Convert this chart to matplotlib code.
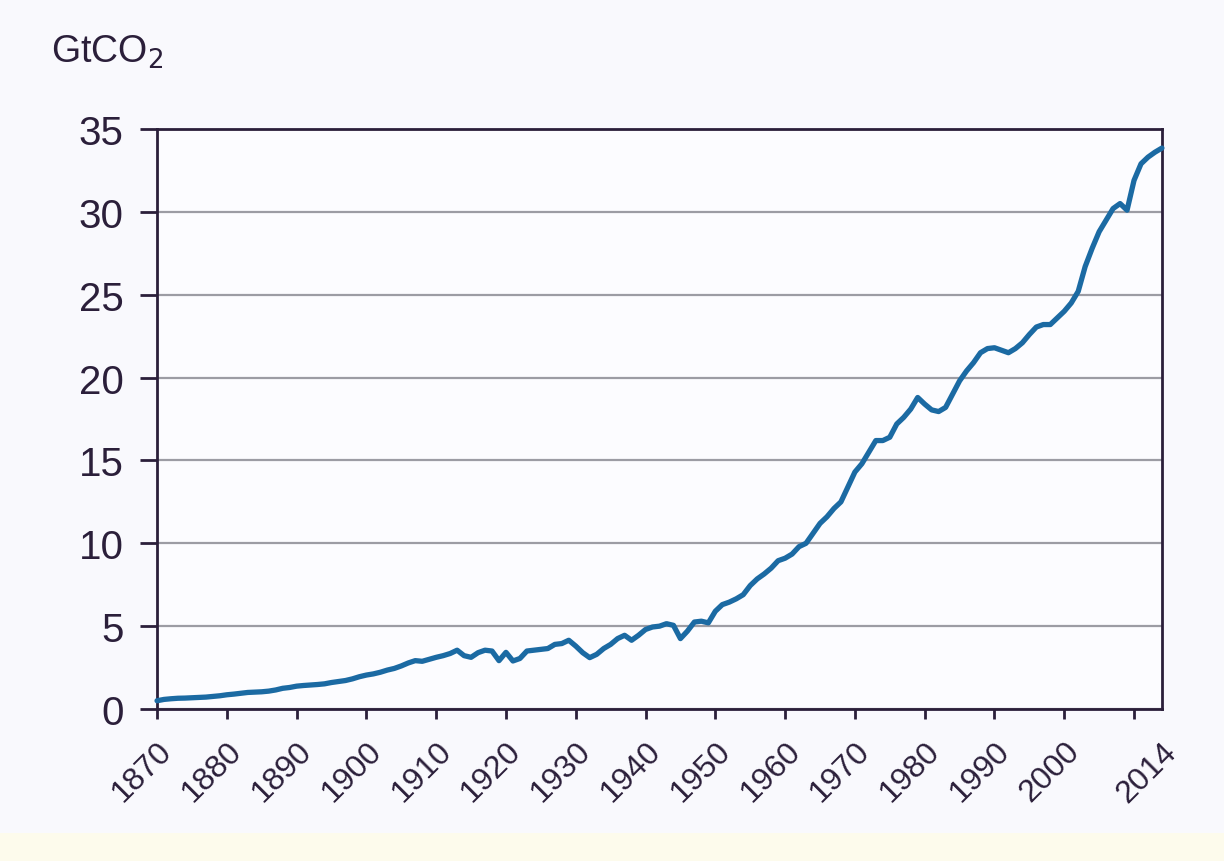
import matplotlib
matplotlib.use('Agg')
import matplotlib.pyplot as plt
from matplotlib.patches import Rectangle

plt.rcParams.update({
    'font.family': ['Liberation Sans', 'DejaVu Sans'],
})

years = list(range(1870, 2015))
emissions = [
    0.50, 0.58, 0.62, 0.65, 0.66, 0.68, 0.70, 0.72, 0.76, 0.80,   # 1870s
    0.86, 0.90, 0.95, 1.00, 1.02, 1.04, 1.08, 1.15, 1.25, 1.30,   # 1880s
    1.38, 1.42, 1.45, 1.48, 1.52, 1.60, 1.66, 1.72, 1.82, 1.95,   # 1890s
    2.05, 2.12, 2.22, 2.35, 2.45, 2.60, 2.78, 2.92, 2.88, 3.00,   # 1900s
    3.12, 3.22, 3.35, 3.55, 3.22, 3.12, 3.40, 3.55, 3.50, 2.92,   # 1910s
    3.42, 2.90, 3.05, 3.50, 3.55, 3.60, 3.65, 3.90, 3.95, 4.15,   # 1920s
    3.80, 3.40, 3.10, 3.30, 3.65, 3.90, 4.25, 4.45, 4.15, 4.45,   # 1930s
    4.80, 4.95, 5.00, 5.15, 5.05, 4.25, 4.70, 5.25, 5.30, 5.20,   # 1940s
    5.90, 6.30, 6.45, 6.65, 6.90, 7.45, 7.85, 8.15, 8.50, 8.95,   # 1950s
    9.10, 9.35, 9.80, 10.00, 10.60, 11.20, 11.60, 12.10, 12.50, 13.40,  # 1960s
    14.30, 14.80, 15.50, 16.20, 16.20, 16.40, 17.20, 17.60, 18.10, 18.80,  # 1970s
    18.40, 18.05, 17.95, 18.20, 19.00, 19.80, 20.40, 20.90, 21.50, 21.75,  # 1980s
    21.80, 21.65, 21.50, 21.75, 22.10, 22.60, 23.05, 23.20, 23.20, 23.60,  # 1990s
    24.00, 24.50, 25.20, 26.70, 27.80, 28.80, 29.50, 30.20, 30.50, 30.10,  # 2000s
    31.90, 32.90, 33.30, 33.60, 33.85,                                     # 2010s
]

tick_years = list(range(1870, 2011, 10))
tick_labels = [str(y) for y in tick_years[:-1]] + ['']
end_year = 2014
y_ticks = list(range(0, 36, 5))

text_color = '#2b1f3a'
line_color = '#1b6aa3'

fig = plt.figure(figsize=(12.24, 8.62), dpi=100, facecolor='#f9f9fd')
fig.patches.append(Rectangle((0, 0), 1, 0.032, transform=fig.transFigure,
                             facecolor='#fdfbec', edgecolor='none', zorder=0))
ax = fig.add_axes([0.1283, 0.1763, 0.821, 0.6729])
ax.set_facecolor('#fcfcff')

ax.plot(years, emissions, color=line_color, linewidth=3.8, solid_joinstyle='round',
        solid_capstyle='round', zorder=3, clip_on=False)

ax.set_xlim(1870, 2014)
ax.set_ylim(0, 35)
ax.set_yticks(y_ticks)
ax.set_xticks(tick_years, tick_labels)
ax.set_xticks([end_year], [str(end_year)], minor=True)
ax.yaxis.grid(True, color='#9c9ca4', linewidth=1.6)
ax.set_axisbelow(True)

for s in ax.spines.values():
    s.set_color(text_color)
    s.set_linewidth(2.0)

ax.tick_params(axis='y', labelsize=29, colors=text_color, length=12, width=2,
               pad=12, direction='out')
ax.tick_params(axis='x', which='major', labelsize=23, colors=text_color, length=7,
               width=2, pad=12, direction='out')
ax.tick_params(axis='x', which='minor', labelsize=23, colors=text_color, length=0,
               pad=20)
for lbl in ax.get_xticklabels(which='both'):
    lbl.set_rotation(45)
    lbl.set_ha('right')
    lbl.set_rotation_mode('anchor')

fig.text(0.042, 0.927, r'GtCO$_2$', fontsize=27, color=text_color)

fig.savefig('out.png', dpi=100, facecolor=fig.get_facecolor())
